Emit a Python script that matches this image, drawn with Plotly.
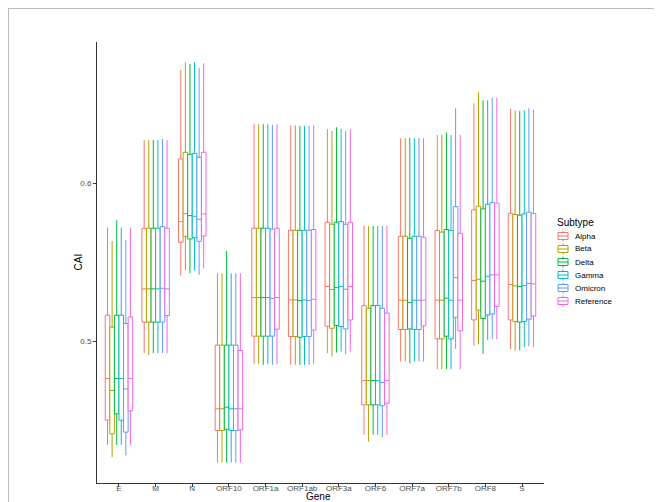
import plotly.graph_objects as go

genes = ["E", "M", "N", "ORF10", "ORF1a", "ORF1ab", "ORF3a", "ORF6", "ORF7a", "ORF7b", "ORF8", "S"]
subtypes = ["Alpha", "Beta", "Delta", "Gamma", "Omicron", "Reference"]
colors = ["#F8766D", "#B79F00", "#00BA38", "#00BFC4", "#619CFF", "#F564E3"]

alpha_upper = [.5721, .6277, .6721, .5431, .6377, .6370, .6347, .5732, .6288, .6309, .6510, .6474]
alpha_q3    = [.5165, .5717, .6157, .4975, .5717, .5704, .5755, .5226, .5666, .5702, .5833, .5812]
alpha_med   = [.4763, .5332, .5759, .4571, .5277, .5262, .5347, .4750, .5260, .5260, .5385, .5360]
alpha_q1    = [.4499, .5121, .5628, .4433, .5032, .5030, .5095, .4596, .5074, .5015, .5135, .5135]
alpha_lower = [.4342, .4924, .5416, .4230, .4856, .4850, .4924, .4406, .4871, .4822, .4970, .4949]

beta_upper = [.5636, .6277, .6770, .5431, .6377, .6370, .6334, .5732, .6288, .6309, .6580, .6464]
beta_q3    = [.5089, .5717, .6199, .4975, .5717, .5704, .5742, .5209, .5666, .5692, .5857, .5804]
beta_med   = [.4687, .5332, .5810, .4571, .5277, .5262, .5328, .4750, .5260, .5260, .5393, .5351]
beta_q1    = [.4412, .5121, .5666, .4433, .5032, .5030, .5082, .4596, .5074, .5015, .5197, .5125]
beta_lower = [.4264, .4913, .5452, .4230, .4856, .4850, .4903, .4363, .4871, .4822, .4981, .4939]

delta_upper = [.5768, .6277, .6760, .5573, .6377, .6366, .6358, .5732, .6292, .6324, .6529, .6462]
delta_q3    = [.5165, .5717, .6186, .4975, .5717, .5704, .5755, .5226, .5653, .5709, .5840, .5800]
delta_med   = [.4763, .5332, .5797, .4581, .5277, .5258, .5340, .4750, .5245, .5273, .5381, .5347]
delta_q1    = [.4539, .5121, .5649, .4441, .5032, .5025, .5099, .4596, .5078, .5032, .5144, .5121]
delta_lower = [.4342, .4924, .5431, .4230, .4850, .4850, .4928, .4406, .4860, .4822, .4920, .4941]

gamma_upper = [.5721, .6277, .6770, .5431, .6377, .6366, .6347, .5732, .6288, .6309, .6529, .6466]
gamma_q3    = [.5165, .5717, .6191, .4975, .5717, .5704, .5759, .5226, .5666, .5702, .5869, .5808]
gamma_med   = [.4763, .5332, .5793, .4571, .5277, .5262, .5347, .4750, .5260, .5260, .5412, .5353]
gamma_q1    = [.4499, .5121, .5658, .4433, .5032, .5030, .5093, .4596, .5074, .5015, .5167, .5125]
gamma_lower = [.4342, .4924, .5448, .4230, .4856, .4850, .4934, .4406, .4871, .4822, .5008, .4962]

omicron_upper = [.5643, .6283, .6734, .5431, .6373, .6366, .6334, .5732, .6288, .6478, .6546, .6478]
omicron_q3    = [.5112, .5727, .6167, .4975, .5711, .5704, .5742, .5209, .5666, .5854, .5880, .5819]
omicron_med   = [.4697, .5336, .5774, .4571, .5272, .5258, .5330, .4738, .5260, .5404, .5421, .5366]
omicron_q1    = [.4423, .5121, .5634, .4433, .5032, .5030, .5078, .4590, .5074, .5152, .5173, .5140]
omicron_lower = [.4275, .4924, .5421, .4230, .4850, .4850, .4917, .4391, .4871, .4951, .5013, .4968]

reference_upper = [.5721, .6277, .6764, .5431, .6377, .6370, .6347, .5732, .6288, .6309, .6546, .6468]
reference_q3    = [.5154, .5717, .6199, .4941, .5717, .5709, .5755, .5178, .5660, .5685, .5876, .5810]
reference_med   = [.4763, .5332, .5808, .4571, .5277, .5266, .5347, .4750, .5260, .5260, .5421, .5364]
reference_q1    = [.4558, .5163, .5668, .4437, .5076, .5070, .5135, .4607, .5097, .5066, .5220, .5159]
reference_lower = [.4342, .4924, .5461, .4230, .4856, .4854, .4934, .4406, .4871, .4822, .5013, .4962]

stats = {
    "Alpha": (alpha_lower, alpha_q1, alpha_med, alpha_q3, alpha_upper),
    "Beta": (beta_lower, beta_q1, beta_med, beta_q3, beta_upper),
    "Delta": (delta_lower, delta_q1, delta_med, delta_q3, delta_upper),
    "Gamma": (gamma_lower, gamma_q1, gamma_med, gamma_q3, gamma_upper),
    "Omicron": (omicron_lower, omicron_q1, omicron_med, omicron_q3, omicron_upper),
    "Reference": (reference_lower, reference_q1, reference_med, reference_q3, reference_upper),
}

FONT = "Liberation Sans, Arial, sans-serif"
OFF = 8  # page body margin
W, H = 662 - OFF, 502 - OFF
L, R, T, B = 97 - OFF, 544 - OFF, 42 - OFF, 483 - OFF  # plot panel in figure pixels

fig = go.Figure()
for name, col in zip(subtypes, colors):
    lo, q1, md, q3, up = stats[name]
    fig.add_trace(go.Box(
        name=name, x=genes, lowerfence=lo, q1=q1, median=md, q3=q3, upperfence=up,
        line=dict(color=col, width=1), fillcolor="white", whiskerwidth=0,
        boxpoints=False, showlegend=False, hoverinfo="skip",
    ))


def px2x(px):
    """screenshot pixel x -> paper x"""
    return (px - OFF - L) / (R - L)


def py2y(py):
    """screenshot pixel y -> paper y"""
    return (B - (py - OFF)) / (B - T)


shapes = []
annotations = []
# outer frame lines (top and left)
shapes.append(dict(type="line", xref="paper", yref="paper", x0=px2x(8), x1=px2x(W + OFF + 2),
                   y0=py2y(8.5), y1=py2y(8.5), line=dict(color="#BBBBBB", width=1)))
shapes.append(dict(type="line", xref="paper", yref="paper", x0=px2x(8.5), x1=px2x(8.5),
                   y0=py2y(8), y1=py2y(H + OFF + 2), line=dict(color="#BBBBBB", width=1)))

# custom legend (ggplot style)
annotations.append(dict(text="Subtype", xref="paper", yref="paper", x=px2x(555), y=py2y(222),
                        xanchor="left", yanchor="middle", showarrow=False,
                        font=dict(family=FONT, size=10, color="black")))
for i, (name, col) in enumerate(zip(subtypes, colors)):
    cy = 236 + 13 * i
    cx = 563
    shapes.append(dict(type="line", xref="paper", yref="paper", x0=px2x(cx), x1=px2x(cx),
                       y0=py2y(cy - 5.5), y1=py2y(cy + 5.5), line=dict(color=col, width=1)))
    shapes.append(dict(type="rect", xref="paper", yref="paper", x0=px2x(cx - 5), x1=px2x(cx + 5),
                       y0=py2y(cy - 3.5), y1=py2y(cy + 3.5), fillcolor="white",
                       line=dict(color=col, width=1)))
    shapes.append(dict(type="line", xref="paper", yref="paper", x0=px2x(cx - 5), x1=px2x(cx + 5),
                       y0=py2y(cy), y1=py2y(cy), line=dict(color=col, width=1)))
    annotations.append(dict(text=name, xref="paper", yref="paper", x=px2x(573), y=py2y(cy),
                            xanchor="left", yanchor="middle", showarrow=False,
                            font=dict(family=FONT, size=8, color="black")))

# axis titles
annotations.append(dict(text="Gene", xref="paper", yref="paper", x=px2x(318), y=py2y(497),
                        xanchor="center", yanchor="middle", showarrow=False,
                        font=dict(family=FONT, size=10, color="black")))
annotations.append(dict(text="CAI", xref="paper", yref="paper", x=px2x(78), y=0.5,
                        xanchor="center", yanchor="middle", showarrow=False, textangle=-90,
                        font=dict(family=FONT, size=10, color="black")))

fig.update_layout(
    width=W, height=H,
    margin=dict(l=L, r=W - R, t=T, b=H - B, pad=0),
    plot_bgcolor="white", paper_bgcolor="white",
    boxmode="group", boxgap=0.25, boxgroupgap=0,
    showlegend=False,
    shapes=shapes, annotations=annotations,
    font=dict(family=FONT),
)
fig.update_xaxes(
    type="category", categoryorder="array", categoryarray=genes,
    range=[-0.6, len(genes) - 0.4], showgrid=False, zeroline=False,
    showline=True, linecolor="#333333", linewidth=1,
    ticks="outside", ticklen=3, tickcolor="#333333", tickwidth=1,
    ticklabelstandoff=-6,
    tickfont=dict(family=FONT, size=8, color="#4D4D4D"), automargin=False,
)
fig.update_yaxes(
    range=[0.41, 0.6899], tickvals=[0.5, 0.6], ticktext=["0.5", "0.6"],
    showgrid=False, zeroline=False,
    showline=True, linecolor="#333333", linewidth=1,
    ticks="outside", ticklen=3, tickcolor="#333333", tickwidth=1,
    tickfont=dict(family=FONT, size=8, color="#4D4D4D"), automargin=False,
)

fig.write_html("out.html")
